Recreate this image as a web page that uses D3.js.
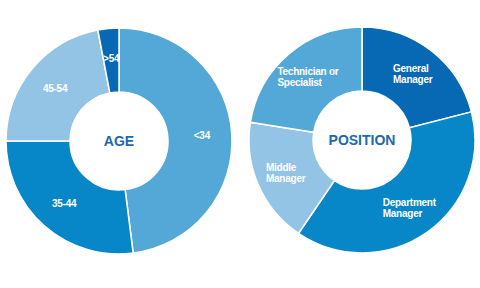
<!DOCTYPE html>
<html>
<head>
<meta charset="utf-8">
<script src="https://cdn.jsdelivr.net/npm/d3@7"></script>
<style>
  html, body { margin: 0; padding: 0; background: #fff; }
  svg { display: block; }
  text { font-family: "Liberation Sans", Arial, Helvetica, sans-serif; font-weight: bold; }
</style>
</head>
<body>
<div id="app"></div>
<script>
// age split (share of respondents, %)
const ageLabels = ['<34', '35-44', '45-54', '>54'];
const ageValues = [48, 27, 22, 3];
const ageColors = ['#53a8d7', '#0787c7', '#93c4e6', '#0768b4'];

// position split (%)
const posLabels = [['General', 'Manager'], ['Department', 'Manager'], ['Middle', 'Manager'], ['Technician or', 'Specialist']];
const posValues = [21, 38.5, 18, 22.5];
const posColors = ['#0768b4', '#0787c7', '#93c4e6', '#53a8d7'];

(() => {
  const WIDTH = 480, HEIGHT = 288;
  const R_OUT = 113, R_IN = 49, R_LABEL = 83;

  const svg = d3.select('#app').append('svg')
    .attr('width', WIDTH).attr('height', HEIGHT)
    .attr('viewBox', [0, 0, WIDTH, HEIGHT]);

  const pie = d3.pie().sort(null).value(d => d.value);
  const arc = d3.arc().innerRadius(R_IN).outerRadius(R_OUT);
  const labelArc = d3.arc().innerRadius(R_LABEL).outerRadius(R_LABEL);

  function donut(cx, cy, labels, values, colors, title, lineAlign) {
    const data = labels.map((l, i) => ({ label: l, value: values[i], color: colors[i] }));
    const g = svg.append('g').attr('transform', `translate(${cx},${cy})`);

    g.selectAll('path')
      .data(pie(data))
      .join('path')
      .attr('d', arc)
      .attr('fill', d => d.data.color)
      .attr('stroke', '#fff')
      .attr('stroke-width', 1.5);

    const lbl = g.selectAll('g.lbl')
      .data(pie(data))
      .join('g')
      .attr('class', 'lbl');

    lbl.each(function (d) {
      const [x, y] = labelArc.centroid(d);
      const lines = Array.isArray(d.data.label) ? d.data.label : [d.data.label];
      const t = d3.select(this).append('text')
        .attr('fill', '#fff')
        .attr('font-size', 10)
        .attr('letter-spacing', -0.25);
      lines.forEach((ln, i) => {
        t.append('tspan').attr('x', 0).attr('dy', i === 0 ? 0 : 11).text(ln);
      });
      const bb = t.node().getBBox();
      // block centred on the centroid, lines left-aligned inside it
      const dx = lineAlign === 'left' ? x - bb.width / 2 : x;
      if (lineAlign !== 'left') t.attr('text-anchor', 'middle');
      const dy = y - (lines.length - 1) * 11 / 2 + 3.5;
      t.attr('transform', `translate(${dx},${dy})`);
    });

    g.append('text')
      .attr('text-anchor', 'middle')
      .attr('dy', 5)
      .attr('font-size', 14)
      .attr('fill', '#1e68b1')
      .text(title);
  }

  donut(119, 141, ageLabels, ageValues, ageColors, 'AGE', 'middle');
  donut(362, 140, posLabels, posValues, posColors, 'POSITION', 'left');
})();
</script>
</body>
</html>
